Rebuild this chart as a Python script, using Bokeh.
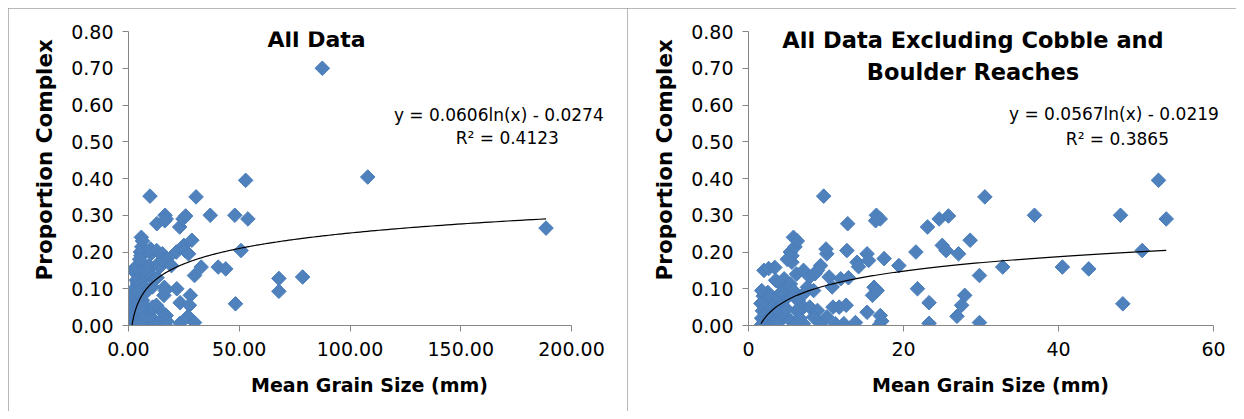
import numpy as np
from bokeh.plotting import figure
from bokeh.layouts import row, column
from bokeh.models import Range1d, FixedTicker, NumeralTickFormatter, Label, ColumnDataSource, Spacer
from bokeh.embed import file_html
from bokeh.resources import INLINE

# ---- data: reaches excluding cobble and boulder (mean grain size mm, proportion complex)
grain_excl = [1.6, 1.7, 1.8, 1.6, 1.9, 2.0, 2.1, 2.2, 2.3, 2.4,
              2.5, 2.6, 2.8, 2.9, 3.0, 1.7, 3.2, 3.4, 2.0, 2.7,
              2.0, 2.6, 3.4, 3.5, 4.0, 4.6, 4.8, 5.4, 5.6, 6.0,
              5.8, 6.3, 5.6, 5.0, 6.2, 5.4, 5.8, 5.0, 7.1, 7.9,
              8.6, 7.6, 8.4, 7.1, 9.3, 8.9, 10.1, 10.0, 10.4, 10.8,
              6.4, 7.1, 6.2, 7.9, 8.9, 8.4, 7.1, 9.3, 11.2, 10.1,
              10.9, 11.7, 12.6, 12.3, 13.8, 11.9, 12.9, 3.7, 4.3, 3.7,
              4.6, 5.4, 3.7, 4.2, 4.9, 6.6, 5.9, 9.7, 12.8, 12.7,
              14.0, 14.2, 15.3, 15.5, 17.5, 16.5, 17.0, 16.4, 16.2, 16.0,
              16.6, 15.3, 17.0, 17.2, 16.8, 19.4, 21.6, 21.8, 23.1, 23.3,
              23.3, 24.6, 25.8, 25.0, 25.5, 27.1, 28.6, 27.9, 27.5, 26.9,
              29.8, 29.8, 30.5, 32.8, 36.9, 40.5, 43.9, 48.0, 48.3, 50.8,
              52.9, 53.9]
prop_excl = [0.000, 0.020, 0.040, 0.060, 0.080, 0.010, 0.050, 0.030, 0.070, 0.000,
             0.090, 0.020, 0.050, 0.000, 0.030, 0.095, 0.070, 0.010, 0.065, 0.080,
             0.150, 0.155, 0.158, 0.123, 0.115, 0.127, 0.105, 0.200, 0.190, 0.214,
             0.240, 0.230, 0.172, 0.180, 0.140, 0.113, 0.095, 0.077, 0.150, 0.132,
             0.141, 0.104, 0.095, 0.086, 0.163, 0.150, 0.195, 0.208, 0.132, 0.105,
             0.068, 0.050, 0.041, 0.050, 0.041, 0.023, 0.005, 0.005, 0.005, 0.023,
             0.050, 0.050, 0.055, 0.005, 0.008, 0.127, 0.130, 0.077, 0.059, 0.041,
             0.023, 0.014, 0.005, 0.090, 0.045, 0.020, 0.000, 0.352, 0.277, 0.204,
             0.172, 0.160, 0.195, 0.177, 0.182, 0.300, 0.290, 0.285, 0.104, 0.082,
             0.095, 0.036, 0.027, 0.012, 0.000, 0.163, 0.200, 0.100, 0.268, 0.062,
             0.006, 0.290, 0.298, 0.218, 0.204, 0.195, 0.232, 0.082, 0.055, 0.025,
             0.136, 0.008, 0.350, 0.159, 0.300, 0.159, 0.154, 0.300, 0.059, 0.204,
             0.395, 0.290]

# cobble and boulder reaches (only in "All Data")
grain_cobble = [67.9, 67.9, 78.6, 87.5, 108.0, 188.5]
prop_cobble = [0.128, 0.093, 0.132, 0.700, 0.404, 0.265]

# logarithmic trendlines as printed on the chart: y = a ln(x) + b
fit_all = (0.0606, -0.0274)
fit_excl = (0.0567, -0.0219)

y_ticks = [0.0, 0.1, 0.2, 0.3, 0.4, 0.5, 0.6, 0.7, 0.8]
x_ticks_all = [0, 50, 100, 150, 200]
x_ticks_excl = [0, 20, 40, 60]

FONT = "DejaVu Sans"
AXIS_GRAY = "#868686"
FILL = "#4F81BD"
EDGE = "#4A7EBB"
NB = "\u00a0"


def make_fig(width, xmax, xbound, xticks, xfmt, b_left, b_right):
    p = figure(width=width, height=403,
               x_range=Range1d(0, xmax), y_range=Range1d(0, 0.8),
               output_backend="svg", toolbar_location=None,
               min_border_left=b_left, min_border_right=b_right,
               min_border_top=23, min_border_bottom=86)
    p.xgrid.visible = False
    p.ygrid.visible = False
    p.outline_line_color = None
    p.background_fill_color = "white"
    p.border_fill_color = "white"
    p.styles = {"outline": "1px solid #a0a0a0", "outline-offset": "-1px"}

    p.xaxis.ticker = FixedTicker(ticks=xticks, minor_ticks=[])
    p.yaxis.ticker = FixedTicker(ticks=y_ticks, minor_ticks=[])
    p.xaxis.bounds = (0, xbound)
    p.xaxis.formatter = NumeralTickFormatter(format=xfmt)
    p.yaxis.formatter = NumeralTickFormatter(format="0.00")
    for ax in (p.xaxis, p.yaxis):
        ax.axis_line_color = AXIS_GRAY
        ax.major_tick_line_color = AXIS_GRAY
        ax.major_tick_in = 0
        ax.major_tick_out = 6
        ax.minor_tick_line_color = None
        ax.major_label_text_font = FONT
        ax.major_label_text_font_size = "19px"
        ax.major_label_text_color = "black"
        ax.axis_label_text_font = FONT
        ax.axis_label_text_font_style = "bold"
        ax.axis_label_text_color = "black"
    p.xaxis.major_label_standoff = 10
    p.yaxis.major_label_standoff = 9
    p.xaxis.axis_label = "Mean Grain Size (mm)"
    p.xaxis.axis_label_text_font_size = "19px"
    p.xaxis.axis_label_standoff = 15
    p.yaxis.axis_label = NB * 5 + "Proportion Complex"
    p.yaxis.axis_label_text_font_size = "21.5px"
    p.yaxis.axis_label_standoff = 11
    return p


def add_series(p, xs, ys, fit, xlo, xhi):
    src = ColumnDataSource(data=dict(x=xs, y=ys))
    p.scatter("x", "y", source=src, marker="square", size=10.3, angle=np.pi / 4,
              fill_color=FILL, line_color=EDGE, line_width=1)
    tx = np.geomspace(xlo, xhi, 300)
    ty = fit[0] * np.log(tx) + fit[1]
    p.line(tx, ty, line_color="black", line_width=1.2)


def add_text(p, x, y, text, size, bold=False):
    p.add_layout(Label(x=x, y=y, text=text, text_font=FONT, text_font_size=size,
                       text_font_style="bold" if bold else "normal",
                       text_color="black", text_align="center",
                       text_baseline="middle"))


# ---- left: all data
grain_all = grain_excl + grain_cobble
prop_all = prop_excl + prop_cobble

p1 = make_fig(619, 217.6, 200, x_ticks_all, "0.00", 120, 17)
add_series(p1, grain_all, prop_all, fit_all, min(grain_all), max(grain_all))
add_text(p1, 84.9, 0.778, "All Data", "22px", bold=True)
add_text(p1, 168.4, 0.574, "y = 0.0606ln(x)  - 0.0274", "17px")
add_text(p1, 171.0, 0.510, "R² = 0.4123", "17px")

# ---- right: excluding cobble and boulder reaches
p2 = make_fig(609, 62.45, 60, x_ticks_excl, "0", 121, 4)
add_series(p2, grain_excl, prop_excl, fit_excl, min(grain_excl), max(grain_excl))
add_text(p2, 28.97, 0.778, "All Data Excluding Cobble and", "22.5px", bold=True)
add_text(p2, 28.97, 0.690, "Boulder Reaches", "22.5px", bold=True)
add_text(p2, 47.5, 0.575, "y = 0.0567ln(x)  - 0.0219", "17px")
add_text(p2, 47.6, 0.507, "R² = 0.3865", "17px")

layout = column(Spacer(height=8), row(Spacer(width=8), p1, p2))
open("out.html", "w").write(file_html(layout, INLINE))
